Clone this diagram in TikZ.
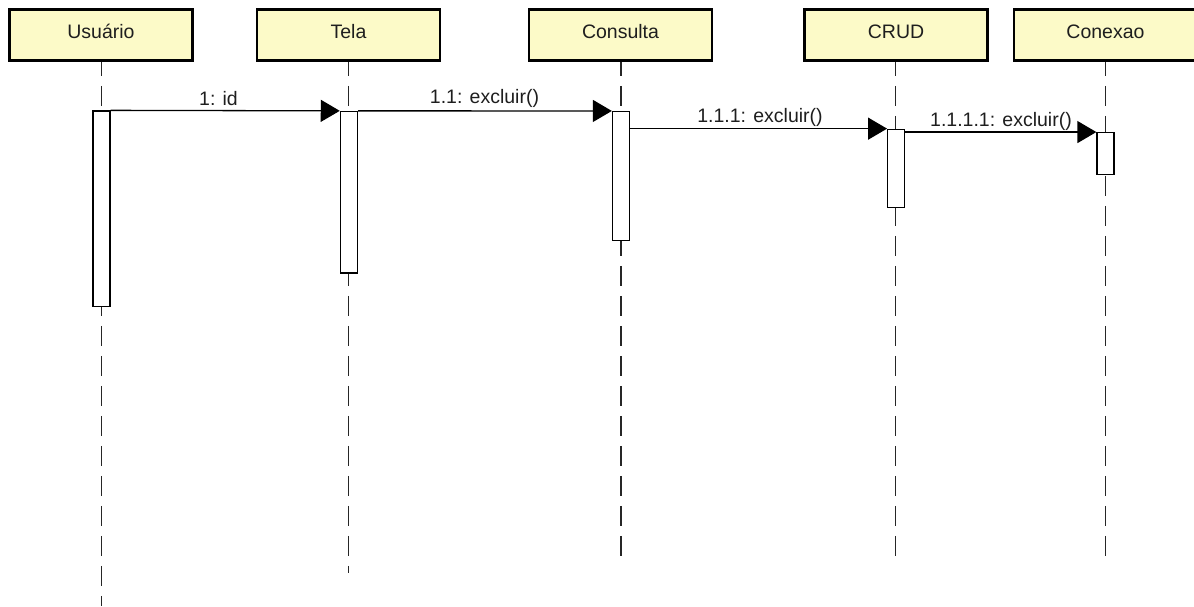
\documentclass[tikz,border=0pt]{standalone}
\usepackage{fontspec}
\setmainfont{Liberation Sans}
\usetikzlibrary{arrows.meta}
\definecolor{hdrfill}{RGB}{252,250,200}
\definecolor{txtc}{RGB}{30,30,30}
\begin{document}
\begin{tikzpicture}[x=1pt,y=-1pt,
  every node/.style={font=\fontsize{19.5}{23}\selectfont, text=txtc},
  hdr/.style={draw=black, line width=2.5pt, fill=hdrfill, minimum width=183pt, minimum height=51pt, inner sep=0pt, text height=14pt, text depth=8pt},
  actbar/.style={draw=black, line width=1.3pt, fill=white, minimum width=17pt, inner sep=0pt},
  life/.style={draw=black!85, line width=1.3pt, dash pattern=on 20pt off 10pt, dash phase=6pt},
  msg/.style={draw=black, line width=1.3pt, -{Triangle[length=19pt,width=22pt]}},
  lbl/.style={anchor=base, inner sep=0pt}]
\useasboundingbox (0,0) rectangle (1194,606);
\clip (0,0) rectangle (1194,606);
% headers
\node[hdr] (usu) at (101,35) {Usuário};
\node[hdr] (tela) at (348.5,35) {Tela};
\node[hdr] (cons) at (620.5,35) {Consulta};
\node[hdr] (crud) at (896,35) {CRUD};
\node[hdr] (conx) at (1105.5,35) {Conexao};
% lifeline ends
\coordinate (usuend) at (101.5,606);
\coordinate (telaend) at (348.5,573);
\coordinate (consend) at (621,556);
\coordinate (crudend) at (895.5,556);
\coordinate (conxend) at (1105.5,556);
% lifelines
\draw[life] (usu.south -| usuend) -- (usuend);
\draw[life] (tela.south -| telaend) -- (telaend);
\draw[life] (cons.south -| consend) -- (consend);
\draw[life] (crud.south -| crudend) -- (crudend);
\draw[life] (conx.south -| conxend) -- (conxend);
% activation bars
\node[actbar, minimum height=195.5pt] (ubar) at (101.5,208.75) {};
\node[actbar, minimum height=161.5pt] (tbar) at (348.9,192.25) {};
\node[actbar, minimum height=129pt] (cbar) at (621,176.1) {};
\node[actbar, minimum height=78pt] (rbar) at (896.2,168.3) {};
\node[actbar, minimum height=42pt] (xbar) at (1105.5,153.7) {};
% messages
\draw[msg] (ubar.north east) -- (tbar.north west);
\draw[msg] (tbar.north east) -- (cbar.north west);
\draw[msg] (cbar.east |- rbar.north) -- (rbar.north west);
\draw[msg] (rbar.east |- xbar.north) -- (xbar.north west);
% labels
\node[lbl] (l1) at (218.5,105.5) {1: id};
\node[lbl] (l2) at (484.5,103.3) {1.1: excluir()};
\node[lbl] (l3) at (760,122) {1.1.1: excluir()};
\node[lbl] (l4) at (1001,126.5) {1.1.1.1: excluir()};
\end{tikzpicture}
\end{document}
